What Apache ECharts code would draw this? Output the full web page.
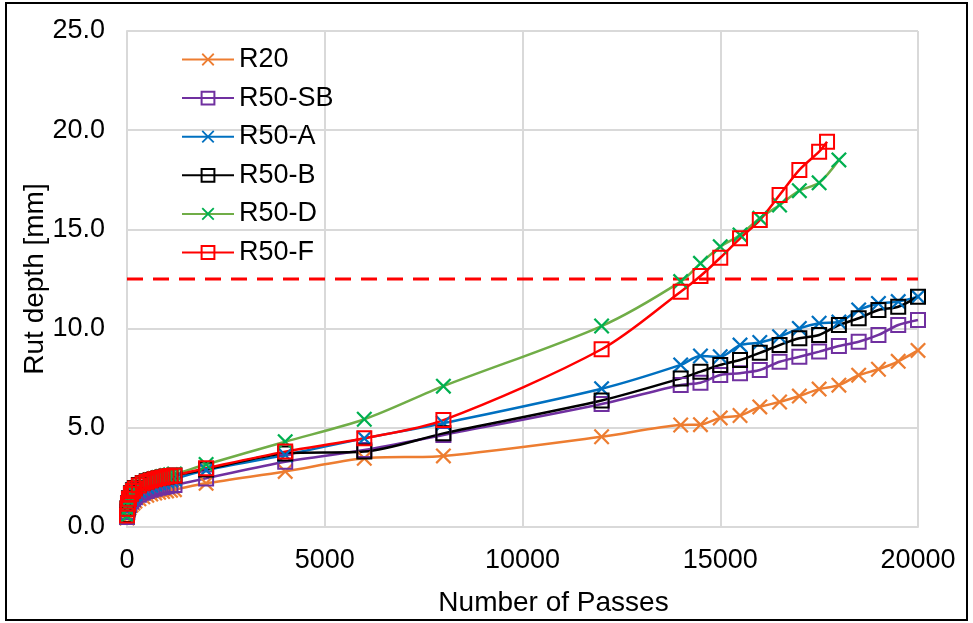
<!DOCTYPE html>
<html>
<head>
<meta charset="utf-8">
<script src="https://cdn.jsdelivr.net/npm/echarts@6/dist/echarts.min.js"></script>
<style>html,body{margin:0;padding:0;background:#fff;}#c{width:973px;height:623px;}</style>
</head>
<body>
<div id="c"></div>
<script>
// ---- data ----
var passesFull = [0,10,25,50,100,150,200,300,400,500,600,700,800,900,1000,1100,1200,2000,4000,6000,8000,12000,14000,14500,15000,15500,16000,16500,17000,17500,18000,18500,19000,19500,20000];
var passesD = [0,10,25,50,100,150,200,300,400,500,600,700,800,900,1000,1100,1200,2000,4000,6000,8000,12000,14000,14500,15000,15500,16000,16500,17000,17500,18000];
var passesF = [0,10,25,50,100,150,200,300,400,500,600,700,800,900,1000,1100,1200,2000,4000,6000,8000,12000,14000,14500,15000,15500,16000,16500,17000,17500,17700];

var r20   = [0.45,0.65,0.8,0.95,1.1,1.2,1.3,1.42,1.52,1.6,1.66,1.71,1.75,1.79,1.82,1.85,1.88,2.2,2.8,3.46,3.58,4.55,5.14,5.16,5.5,5.62,6.05,6.3,6.6,6.95,7.15,7.65,7.95,8.35,8.9];
var r50SB = [0.5,0.75,0.92,1.1,1.28,1.4,1.5,1.63,1.73,1.81,1.88,1.93,1.98,2.02,2.06,2.09,2.12,2.45,3.29,3.88,4.64,6.2,7.16,7.27,7.66,7.75,7.91,8.33,8.58,8.84,9.12,9.34,9.68,10.18,10.43];
var r50A  = [0.55,0.85,1.05,1.25,1.45,1.58,1.68,1.83,1.94,2.03,2.1,2.17,2.23,2.28,2.33,2.37,2.42,2.87,3.63,4.47,5.23,6.97,8.17,8.62,8.58,9.17,9.3,9.59,10.01,10.27,10.33,10.94,11.27,11.36,11.61];
var r50B  = [0.6,0.95,1.2,1.45,1.7,1.85,1.97,2.12,2.22,2.3,2.37,2.42,2.47,2.51,2.54,2.57,2.6,2.9,3.71,3.8,4.72,6.38,7.49,7.83,8.17,8.42,8.78,9.17,9.51,9.68,10.18,10.52,10.94,11.1,11.61];
var r50D  = [0.55,0.9,1.15,1.4,1.65,1.8,1.92,2.08,2.2,2.3,2.38,2.44,2.5,2.55,2.59,2.63,2.67,3.15,4.3,5.43,7.1,10.13,12.37,13.29,14.13,14.72,15.56,16.23,16.95,17.35,18.5];
var r50F  = [0.58,0.92,1.17,1.42,1.67,1.82,1.94,2.09,2.2,2.28,2.35,2.41,2.46,2.5,2.54,2.57,2.6,2.96,3.8,4.47,5.39,8.96,11.86,12.65,13.57,14.55,15.47,16.73,18.0,18.92,19.42];

var limitDepth = 12.5;
var xTicks = [0,5000,10000,15000,20000];
var yTicks = [0,5,10,15,20,25];

// ---- chart ----
function pairs(xs, ys){ return xs.map(function(x,i){ return [x, ys[i]]; }); }
var FONT = 'Liberation Sans, Arial, sans-serif';
var X_PATH = 'path://M0,1L1,0L5,4L9,0L10,1L6,5L10,9L9,10L5,6L1,10L0,9L4,5Z';

function crossSeries(name, xs, ys, lineColor, markColor){
  return {
    name: name, type: 'line', data: pairs(xs, ys), smooth: 0.3,
    symbol: X_PATH, symbolSize: 16, showAllSymbol: true,
    lineStyle: {color: lineColor, width: 2.5},
    itemStyle: {color: markColor, borderWidth: 0},
    emphasis: {disabled: true}
  };
}
function squareSeries(name, xs, ys, color){
  return {
    name: name, type: 'line', data: pairs(xs, ys), smooth: 0.3,
    symbol: 'rect', symbolSize: 14, showAllSymbol: true,
    lineStyle: {color: color, width: 2.5},
    itemStyle: {color: 'rgba(0,0,0,0)', borderColor: color, borderWidth: 2},
    emphasis: {disabled: true}
  };
}

var chart = echarts.init(document.getElementById('c'), null, {renderer: 'canvas'});
chart.setOption({
  animation: false,
  backgroundColor: '#fff',
  textStyle: {fontFamily: FONT},
  grid: {left: 127, top: 31, right: 55, bottom: 96, containLabel: false},
  graphic: [{type: 'rect', shape: {x: 6, y: 3, width: 961, height: 617}, style: {fill: 'none', stroke: '#000', lineWidth: 2}, silent: true}],
  legend: {
    orient: 'vertical', left: 176, top: 41, itemWidth: 52, itemHeight: 16, itemGap: 11.6,
    data: ['R20','R50-SB','R50-A','R50-B','R50-D','R50-F'],
    textStyle: {fontSize: 27, color: '#000', fontFamily: FONT, lineHeight: 26}
  },
  xAxis: {
    type: 'value', min: 0, max: 20000, interval: 5000,
    name: 'Number of Passes', nameLocation: 'middle', nameGap: 62, nameMoveOverlap: false,
    nameTextStyle: {fontSize: 28, color: '#000', fontFamily: FONT, padding: [0,0,0,62]},
    axisLine: {show: true, lineStyle: {color: '#d9d9d9', width: 2}},
    axisTick: {show: false},
    axisLabel: {fontSize: 27, color: '#000', margin: 20, fontFamily: FONT, formatter: function(v){ return String(v); }},
    splitLine: {show: true, lineStyle: {color: '#d9d9d9', width: 2}}
  },
  yAxis: {
    type: 'value', min: 0, max: 25, interval: 5,
    name: 'Rut depth [mm]', nameLocation: 'middle', nameGap: 78, nameMoveOverlap: false,
    nameTextStyle: {fontSize: 28, color: '#000', fontFamily: FONT},
    axisLine: {show: true, lineStyle: {color: '#d9d9d9', width: 2}},
    axisTick: {show: false},
    axisLabel: {fontSize: 27, color: '#000', margin: 22, fontFamily: FONT, formatter: function(v){ return v.toFixed(1); }},
    splitLine: {show: true, lineStyle: {color: '#d9d9d9', width: 2}}
  },
  series: [
    {name: 'limit', type: 'line', data: [[xTicks[0], limitDepth],[xTicks[xTicks.length-1], limitDepth]], symbol: 'none',
     lineStyle: {color: '#ff0000', width: 3, type: [16, 10]}, silent: true, z: 1},
    crossSeries('R20', passesFull, r20, '#ED7D31', '#ED7D31'),
    squareSeries('R50-SB', passesFull, r50SB, '#7030A0'),
    crossSeries('R50-A', passesFull, r50A, '#0070C0', '#0070C0'),
    squareSeries('R50-B', passesFull, r50B, '#000000'),
    crossSeries('R50-D', passesD, r50D, '#70AD47', '#00B050'),
    squareSeries('R50-F', passesF, r50F, '#FF0000')
  ]
});
</script>
</body>
</html>
